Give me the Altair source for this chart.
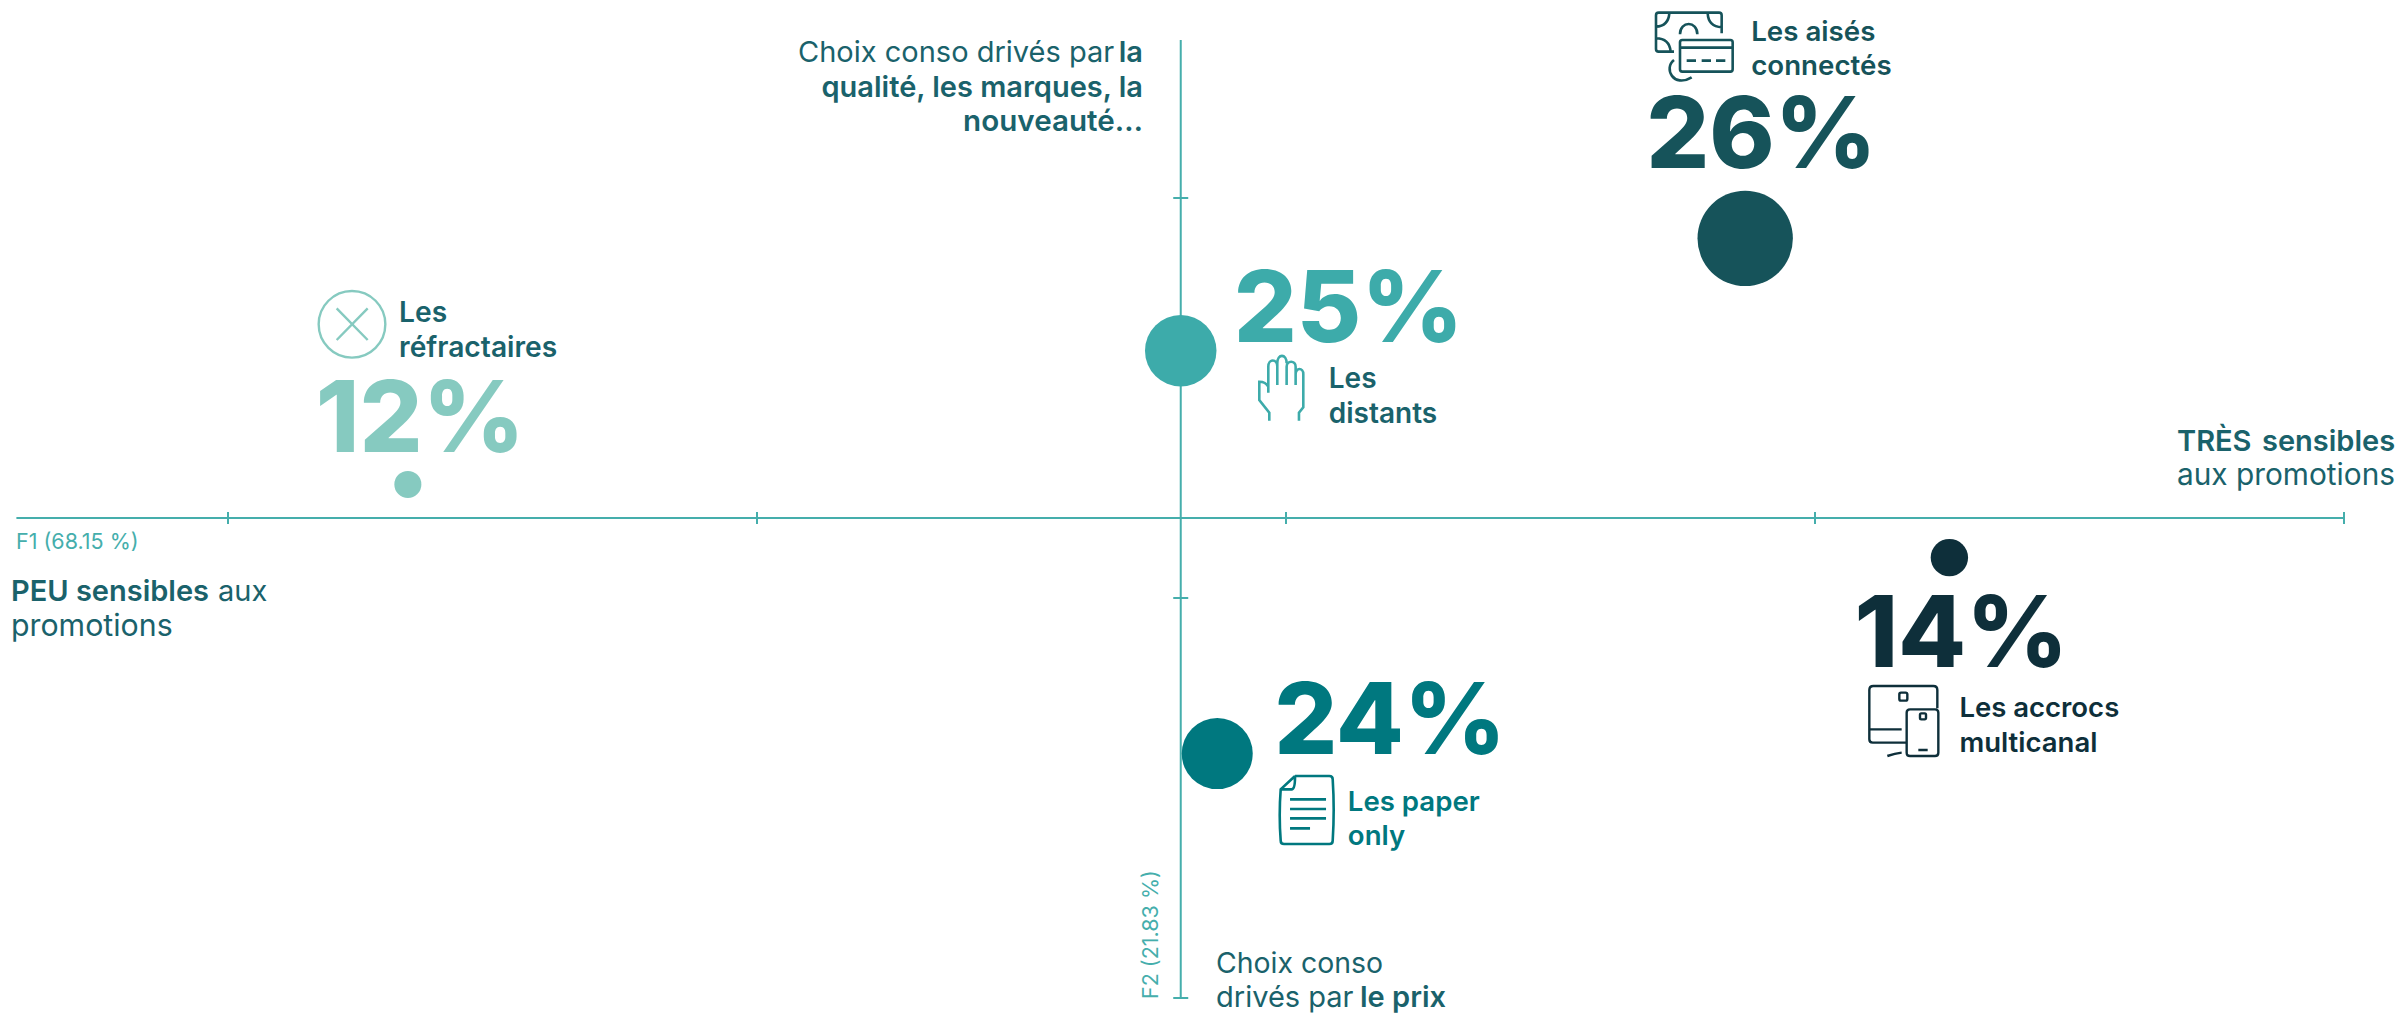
import re
import altair as alt
import pandas as pd

# Segments: position on the two factorial axes and share of the population
segments = ["Les aisés connectés", "Les distants", "Les paper only", "Les réfractaires", "Les accrocs multicanal"]
f1_scores = [0.868, -0.199, -0.130, -1.660, 1.254]
f2_scores = [0.899, 0.618, -0.389, 0.284, 0.101]
shares = [26, 25, 24, 12, 14]
share_labels = ["26%", "25%", "24%", "12%", "14%"]
segment_colors = ["#16535A", "#3DABAA", "#00787F", "#86CAC0", "#0E2F3A"]

# Axis ticks and the point where the two axes cross
f1_ticks = [-2, -1, 0, 1, 2]
f2_ticks = [1, 0, -1]
f1_extent = [-2.40, 2.0]
f2_extent = [-1.0, 1.395]
f1_cross = -0.199
f2_cross = 0.2

AXIS = "#45AEAC"
INK = "#1A626B"
FONT = "Inter"

x_scale = alt.Scale(domain=[-2.431, 2.1096], nice=False, zero=False)
y_scale = alt.Scale(domain=[-1.0375, 1.495], nice=False, zero=False)
X = lambda f: alt.X(f, type="quantitative", scale=x_scale, axis=None)
Y = lambda f: alt.Y(f, type="quantitative", scale=y_scale, axis=None)

segments_df = pd.DataFrame({
    "segment": segments, "f1": f1_scores, "f2": f2_scores,
    "share": shares, "label": share_labels, "color": segment_colors,
})

# Axis lines and ticks
h_axis = alt.Chart(pd.DataFrame({"a": [f1_extent[0]], "b": [f1_extent[1]], "c": [f2_cross]})).mark_rule(
    color=AXIS, strokeWidth=2).encode(x=X("a"), x2="b", y=Y("c"))
v_axis = alt.Chart(pd.DataFrame({"a": [f2_extent[0]], "b": [f2_extent[1]], "c": [f1_cross]})).mark_rule(
    color=AXIS, strokeWidth=2).encode(y=Y("a"), y2="b", x=X("c"))
h_ticks = alt.Chart(pd.DataFrame({"t": f1_ticks, "c": f2_cross})).mark_tick(
    color=AXIS, orient="vertical", size=12, thickness=2, opacity=1).encode(x=X("t"), y=Y("c"))
v_ticks = alt.Chart(pd.DataFrame({"t": f2_ticks, "c": f1_cross})).mark_tick(
    color=AXIS, orient="horizontal", size=15, thickness=2, opacity=1).encode(y=Y("t"), x=X("c"))

# Segment circles, sized by share
circles = alt.Chart(segments_df).mark_circle(opacity=1).encode(
    x=X("f1"), y=Y("f2"),
    size=alt.Size("share:Q", legend=None, scale=alt.Scale(
        domain=[12, 14, 24, 25, 26], range=[729, 1399, 5041, 5112, 9100])),
    color=alt.Color("color:N", scale=None),
)

# Large share figures, placed relative to their circle
share_offsets = {
    "26%": (-99, -70), "25%": (53, -8.5), "24%": (57, 0.5),
    "12%": (-92, -32.5), "14%": (-95, 109),
}
share_layers = []
for label, (dx, dy) in share_offsets.items():
    share_layers.append(
        alt.Chart(segments_df[segments_df.label == label]).mark_text(
            font=FONT, fontSize=99, fontWeight=800, align="left", baseline="alphabetic", dx=dx, dy=dy,
        ).encode(x=X("f1"), y=Y("f2"), text="label:N", color=alt.Color("color:N", scale=None))
    )

# Segment names, two lines each, placed relative to their circle
name_lines = {
    "Les aisés connectés": (["Les aisés", "connectés"], 6, [-197.5, -163.5], "#16535A", 27.7),
    "Les distants": (["Les", "distants"], 148, [36.7, 71.7], "#1A626B", 28),
    "Les paper only": (["Les paper", "only"], 130.6, [57, 91], "#00787F", 27.6),
    "Les réfractaires": (["Les", "réfractaires"], -8.8, [-162.8, -127.5], "#1A626B", 28.2),
    "Les accrocs multicanal": (["Les accrocs", "multicanal"], 10, [159.3, 194], "#0E2F3A", 27.5),
}
name_layers = []
for seg, (lines, dx, dys, color, size) in name_lines.items():
    for line, dy in zip(lines, dys):
        name_layers.append(
            alt.Chart(segments_df[segments_df.segment == seg]).mark_text(
                font=FONT, fontSize=size, fontWeight=600, align="left", baseline="alphabetic",
                dx=dx, dy=dy, color=color,
            ).encode(x=X("f1"), y=Y("f2"), text=alt.value(line))
        )


# Free annotations around the axes: text, left/right anchor, weight, size, colour
def note(text, x, y, weight=400, align="left", size=29, color=INK, angle=0):
    return alt.Chart(pd.DataFrame({"t": [text]})).mark_text(
        font=FONT, fontSize=size, fontWeight=weight, align=align, baseline="alphabetic",
        color=color, angle=angle,
    ).encode(x=alt.value(x), y=alt.value(y), text="t:N")


notes = [
    note("Choix conso drivés par", 798, 62),
    note("la", 1143, 62, 600, "right"),
    note("qualité, les marques, la", 1143, 96.7, 600, "right"),
    note("nouveauté…", 1143, 131, 600, "right", size=29.6),
    note("TRÈS", 2177, 450.7, 600),
    note("sensibles", 2262, 450.7, 600),
    note("aux promotions", 2177, 485, size=29.8),
    note("PEU sensibles", 11, 600.7, 600),
    note("aux", 218, 600.7),
    note("promotions", 11, 636, size=30.3),
    note("Choix conso", 1216, 972.7, size=28.4),
    note("drivés par", 1216, 1006.7),
    note("le prix", 1360, 1006.7, 600),
    note("F1 (68.15 %)", 16, 549, size=21.5, color=AXIS),
    note("F2 (21.83 %)", 1158, 999, size=21.5, color=AXIS, angle=270),
]


# Pictograms are outlined as SVG paths, rescaled to the unit square Vega expects for custom shapes
def unit_path(path, cx, cy, half):
    coords = iter(range(10 ** 6))

    def rescale(match):
        value = float(match.group())
        centre = cx if next(coords) % 2 == 0 else cy
        return f"{(value - centre) / half:.4f}"

    return re.sub(r"-?\d+(?:\.\d+)?", rescale, path)


def circle_path(x, y, r):
    k = 0.5523 * r
    return (f"M{x - r} {y} C{x - r} {y - k} {x - k} {y - r} {x} {y - r} "
            f"C{x + k} {y - r} {x + r} {y - k} {x + r} {y} "
            f"C{x + r} {y + k} {x + k} {y + r} {x} {y + r} "
            f"C{x - k} {y + r} {x - r} {y + k} {x - r} {y} Z")


def round_rect(x0, y0, x1, y1, r):
    return (f"M{x0 + r} {y0} L{x1 - r} {y0} Q{x1} {y0} {x1} {y0 + r} L{x1} {y1 - r} "
            f"Q{x1} {y1} {x1 - r} {y1} L{x0 + r} {y1} Q{x0} {y1} {x0} {y1 - r} "
            f"L{x0} {y0 + r} Q{x0} {y0} {x0 + r} {y0} Z")


money_card = (
    "M222 155 L176 155 Q168 155 168 147 L168 46 Q168 38 176 38 L357 38 Q365 38 365 46 L365 100 "
    "M168 80 Q205 78 208 40 M323 40 Q325 80 365 82 M168 115 Q208 115 212 155 "
    "M240 103 C240 62 292 62 292 103 "
    + round_rect(240, 120, 398, 215, 7) +
    " M240 143 L398 143 M260 182 L288 182 M305 182 L333 182 M348 182 L376 182 "
    "M222 180 C190 205 220 265 275 232"
)
hand = (
    "M507 512 L507 488 L520 472 L520 372 C520 352 497 352 497 372 L497 405 "
    "M497 372 L497 350 C497 330 470 330 470 350 L470 405 "
    "M470 340 C470 310 442 310 442 340 L442 405 "
    "M442 350 C442 325 415 325 415 350 L415 428 "
    "M415 410 C410 400 400 395 388 395 L388 450 L418 488 L418 512"
)
paper = (
    "M495 348 L598 348 Q608 348 608 358 C612 420 612 480 608 542 Q608 552 598 552 L462 552 "
    "Q452 552 452 542 C448 490 448 440 452 388 L495 348 M455 388 L485 388 Q495 388 495 350 "
    "M480 418 L588 418 M480 447 L588 447 M480 475 L588 475 M480 505 L540 505"
)
refusal = circle_path(216, 163, 100) + " M170 115 L263 210 M263 115 L170 210"
devices = (
    "M228 668 L128 668 Q118 668 118 658 L118 510 Q118 498 130 498 L310 498 Q322 498 322 510 L322 565 "
    "M118 628 L215 628 "
    + round_rect(208, 518, 232, 542, 5) + " "
    + round_rect(230, 568, 325, 708, 10) + " "
    + round_rect(270, 580, 288, 598, 4) +
    " M265 690 L293 690 M172 708 Q195 700 215 698"
)

icon_specs = [
    # path, centre within its drawing grid, screen centre, colour, stroke width
    (money_card, (282, 142), (1694, 47.3), "#16535A", 2.6),
    (hand, (454, 413), (1281.3, 387.7), "#3DABAA", 2.6),
    (paper, (530, 450), (1306.7, 810), "#00787F", 2.6),
    (refusal, (216, 163), (352, 324.3), "#86CAC0", 2.4),
    (devices, (222, 603), (1904, 721), "#0E2F3A", 2.4),
]
icons = []
for path, (gx, gy), (sx, sy), color, stroke in icon_specs:
    half_grid = 120  # drawing grids are at three times screen scale, so 40 screen pixels
    icons.append(
        alt.Chart(pd.DataFrame({"i": [0]})).mark_point(
            shape=unit_path(path, gx, gy, half_grid), size=80 ** 2, filled=False, opacity=1,
            stroke=color, strokeWidth=stroke,
        ).encode(x=alt.value(sx), y=alt.value(sy))
    )

chart = alt.layer(
    h_axis, v_axis, h_ticks, v_ticks, circles, *share_layers, *name_layers, *notes, *icons
).properties(
    width=2402, height=1013, padding=0, autosize=alt.AutoSizeParams(type="none"),
    background="white",
).configure_view(stroke=None)

chart.save("out.html", embed_options={"renderer": "svg", "actions": False})
